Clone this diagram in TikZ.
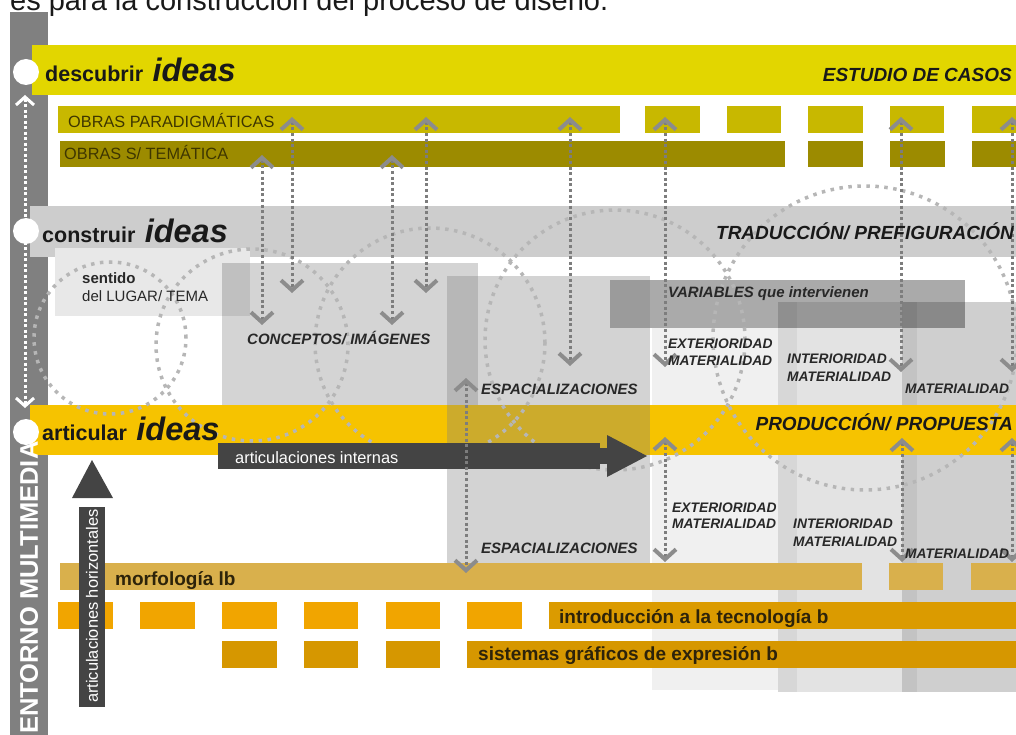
\documentclass[tikz,border=0pt]{standalone}
\usepackage{fontspec}
\setmainfont{Liberation Sans}
\usetikzlibrary{arrows.meta,positioning}

\definecolor{descband}{RGB}{226,214,0}
\definecolor{obrapar}{RGB}{200,184,0}
\definecolor{obratem}{RGB}{156,139,0}
\definecolor{obratext}{RGB}{62,54,0}
\definecolor{constband}{RGB}{205,205,205}
\definecolor{sentband}{RGB}{232,232,232}
\definecolor{artband}{RGB}{246,195,0}
\definecolor{varbox}{RGB}{170,170,170}
\definecolor{morfband}{RGB}{217,176,76}
\definecolor{introsmall}{RGB}{241,165,0}
\definecolor{introlong}{RGB}{219,155,0}
\definecolor{sysband}{RGB}{214,151,0}
\definecolor{darkarrow}{RGB}{68,68,68}
\definecolor{sidebar}{RGB}{128,128,128}
\definecolor{linkgray}{RGB}{125,125,125}
\definecolor{chevgray}{RGB}{140,140,140}
\definecolor{ringgray}{RGB}{182,182,182}
\definecolor{labeltext}{RGB}{25,25,25}
\definecolor{tagtext}{RGB}{40,40,40}
\definecolor{coursetext}{RGB}{45,35,10}

\begin{document}
\begin{tikzpicture}
  [ x=1pt, y=-1pt, inner sep=0pt,
    band/.style={font=\fontsize{21.5}{24}\selectfont\bfseries, text=labeltext, anchor=base west},
    bigideas/.style={font=\fontsize{32.5}{34}\selectfont\bfseries\itshape, text=labeltext, anchor=base west, xshift=9pt},
    stage/.style={font=\fontsize{19}{21}\selectfont\bfseries\itshape, text=labeltext, anchor=base east},
    obra/.style={font=\fontsize{16.3}{18}\selectfont, text=obratext, anchor=base west},
    tag/.style={font=\fontsize{13.8}{16}\selectfont\bfseries\itshape, text=tagtext, anchor=base west},
    bigtag/.style={tag, font=\fontsize{15}{17}\selectfont\bfseries\itshape},
    course/.style={font=\fontsize{19}{21}\selectfont\bfseries, text=coursetext, anchor=base west},
    inner/.style={font=\fontsize{16.4}{18}\selectfont, text=white},
    chev/.tip={Straight Barb[length=10pt, width=22pt, line width=4pt, color=chevgray]},
    link/.style={draw=linkgray, line width=3pt, dash pattern=on 3pt off 2.6pt, chev-chev},
    homelink/.style={draw=white, line width=3pt, dash pattern=on 3pt off 2.5pt,
      {Straight Barb[length=8pt, width=18pt, line width=3pt]}-{Straight Barb[length=8pt, width=18pt, line width=3pt]}},
    ring/.style={draw=ringgray, line width=3.5pt, dash pattern=on 3.5pt off 5.5pt},
    stop/.style={circle, fill=white, minimum size=26pt} ]

  \useasboundingbox (0,0) rectangle (1016,735);
  \clip (0,0) rectangle (1016,735);

  \node [name=heading, anchor=base west, font=\fontsize{29}{31}\selectfont, text=labeltext] at (10,11)
    {es para la construcción del proceso de diseño.};

  \fill [sidebar] (10,12) rectangle (48,735);

  \fill [descband] (32,45) rectangle (1016,95);
  \fill [obrapar] (58,106) rectangle (620,133);
  \fill [obrapar] (645,106) rectangle (700,133);
  \fill [obrapar] (727,106) rectangle (781,133);
  \fill [obrapar] (808,106) rectangle (863,133);
  \fill [obrapar] (890,106) rectangle (944,133);
  \fill [obrapar] (972,106) rectangle (1016,133);
  \fill [obratem] (60,141) rectangle (785,167);
  \fill [obratem] (808,141) rectangle (863,167);
  \fill [obratem] (890,141) rectangle (945,167);
  \fill [obratem] (972,141) rectangle (1016,167);

  \fill [constband] (30,206) rectangle (1016,257);
  \fill [sentband] (55,248) rectangle (250,316);
  \fill [black, fill opacity=0.17] (222,263) rectangle (478,405);
  \fill [varbox] (610,280) rectangle (965,328);

  \fill [black, fill opacity=0.06] (652,328) rectangle (778,690);
  \fill [black, fill opacity=0.11] (778,302) rectangle (1016,692);
  \fill [black, fill opacity=0.05] (778,302) rectangle (797,692);
  \fill [black, fill opacity=0.09] (902,302) rectangle (1016,692);
  \fill [black, fill opacity=0.06] (902,302) rectangle (917,692);

  \fill [artband] (30,405) rectangle (1016,455);
  \fill [gray, fill opacity=0.35] (447,276) rectangle (650,565);

  \fill [morfband] (60,563) rectangle (862,590);
  \fill [morfband] (889,563) rectangle (943,590);
  \fill [morfband] (971,563) rectangle (1016,590);
  \fill [introsmall] (58,602) rectangle (113,629);
  \fill [introsmall] (140,602) rectangle (195,629);
  \fill [introsmall] (222,602) rectangle (277,629);
  \fill [introsmall] (304,602) rectangle (358,629);
  \fill [introsmall] (386,602) rectangle (440,629);
  \fill [introsmall] (467,602) rectangle (522,629);
  \fill [introlong] (549,602) rectangle (1016,629);
  \fill [sysband] (222,641) rectangle (277,668);
  \fill [sysband] (304,641) rectangle (358,668);
  \fill [sysband] (386,641) rectangle (440,668);
  \fill [sysband] (467,641) rectangle (1016,668);

  \draw [ring] (110,338) circle [radius=76pt];
  \draw [ring] (252,345) circle [radius=96pt];
  \draw [ring] (430,343) circle [radius=115pt];
  \draw [ring] (615,340) circle [radius=130pt];
  \draw [ring] (865,338) circle [radius=152pt];

  \fill [darkarrow] (218,443) rectangle (600,469);
  \fill [darkarrow] (600,448) rectangle (607,464);
  \fill [darkarrow] (607,435) -- (647,456) -- (607,477) -- cycle;
  \fill [darkarrow] (79,507) rectangle (105,707);
  \fill [darkarrow] (72,498) -- (92,460) -- (113,498) -- cycle;

  \coordinate (up1) at (262,155);  \coordinate (dn1) at (262,325);
  \coordinate (up2) at (292,117);  \coordinate (dn2) at (292,293);
  \coordinate (up3) at (392,155);  \coordinate (dn3) at (392,325);
  \coordinate (up4) at (426,117);  \coordinate (dn4) at (426,293);
  \coordinate (up5) at (570,117);  \coordinate (dn5) at (570,366);
  \coordinate (up6) at (665,117);  \coordinate (dn6) at (665,367);
  \coordinate (up7) at (901,117);  \coordinate (dn7) at (901,372);
  \coordinate (up8) at (1012,117); \coordinate (dn8) at (1012,372);
  \coordinate (up9) at (466,378);  \coordinate (dn9) at (466,573);
  \coordinate (up10) at (665,437); \coordinate (dn10) at (665,562);
  \coordinate (up11) at (902,438); \coordinate (dn11) at (902,562);
  \coordinate (up12) at (1012,438); \coordinate (dn12) at (1012,562);
  \coordinate (hometop) at (25,95); \coordinate (homebot) at (25,408);

  \path (up1) edge [link] (dn1)
        (up2) edge [link] (dn2)
        (up3) edge [link] (dn3)
        (up4) edge [link] (dn4)
        (up5) edge [link] (dn5)
        (up6) edge [link] (dn6)
        (up7) edge [link] (dn7)
        (up8) edge [link] (dn8)
        (up9) edge [link] (dn9)
        (up10) edge [link] (dn10)
        (up11) edge [link] (dn11)
        (up12) edge [link] (dn12)
        (hometop) edge [homelink] (homebot);

  \node [stop, name=stopdesc] at (26,72) {};
  \node [stop, name=stopcons] at (26,231) {};
  \node [stop, name=stopart] at (26,432) {};

  \node [band, name=desc] at (45,82) {descubrir};
  \node [bigideas, name=descideas] at (desc.base east) {ideas};
  \node [band, name=cons] at (42,242) {construir};
  \node [bigideas, name=consideas] at (cons.base east) {ideas};
  \node [band, name=art] at (42,440) {articular};
  \node [bigideas, name=artideas] at (art.base east) {ideas};

  \node [stage, name=casos] at (1012,82) {ESTUDIO DE CASOS};
  \node [stage, name=trad] at (1014,240) {TRADUCCIÓN/ PREFIGURACIÓN};
  \node [stage, name=prod] at (1013,430) {PRODUCCIÓN/ PROPUESTA};

  \node [obra, name=obrasp] at (68,128) {OBRAS PARADIGMÁTICAS};
  \node [obra, name=obrast] at (64,160) {OBRAS S/ TEMÁTICA};

  \node [name=sentido, anchor=base west, font=\fontsize{15}{17}\selectfont\bfseries, text=tagtext] at (82,283) {sentido};
  \node [name=lugar, anchor=base west, font=\fontsize{15}{17}\selectfont, text=tagtext] at (82,301) {del LUGAR/ TEMA};

  \node [bigtag, name=conceptos] at (247,344) {CONCEPTOS/ IMÁGENES};
  \node [bigtag, name=variables] at (668,297) {VARIABLES que intervienen};
  \node [bigtag, name=espup] at (481,394) {ESPACIALIZACIONES};
  \node [tag, name=extup] at (668,348) {EXTERIORIDAD};
  \node [tag, name=extupm] at (668,365) {MATERIALIDAD};
  \node [tag, name=intup] at (787,363) {INTERIORIDAD};
  \node [tag, name=intupm] at (787,381) {MATERIALIDAD};
  \node [tag, name=matup] at (905,393) {MATERIALIDAD};

  \node [bigtag, name=espdn] at (481,553) {ESPACIALIZACIONES};
  \node [tag, name=extdn] at (672,512) {EXTERIORIDAD};
  \node [tag, name=extdnm] at (672,528) {MATERIALIDAD};
  \node [tag, name=intdn] at (793,528) {INTERIORIDAD};
  \node [tag, name=intdnm] at (793,546) {MATERIALIDAD};
  \node [tag, name=matdn] at (905,558) {MATERIALIDAD};

  \node [inner, name=internas, anchor=base west] at (235,463) {articulaciones internas};
  \node [inner, name=horizontales, anchor=west, rotate=90] at (92,703) {articulaciones horizontales};
  \node [name=entorno, anchor=west, rotate=90, font=\fontsize{25.5}{27}\selectfont\bfseries, text=white] at (29,734) {ENTORNO MULTIMEDIA};

  \node [course, name=morf] at (115,585) {morfología lb};
  \node [course, name=tecno] at (559,623) {introducción a la tecnología b};
  \node [course, name=graf] at (478,660) {sistemas gráficos de expresión b};
\end{tikzpicture}
\end{document}
